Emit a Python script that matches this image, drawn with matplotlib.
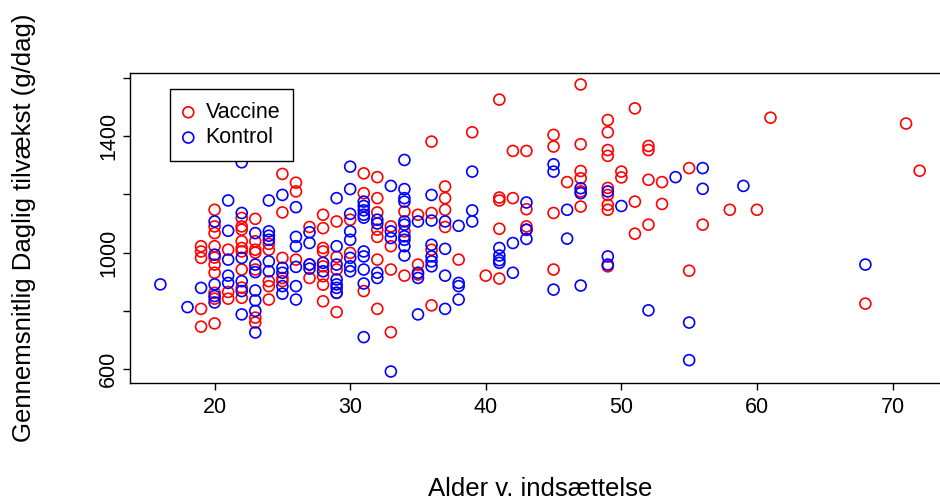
import numpy as np
import matplotlib
matplotlib.use('agg')
import matplotlib.pyplot as plt
from matplotlib.ticker import FixedLocator, FuncFormatter

plt.rcParams['font.family'] = ['Liberation Sans', 'DejaVu Sans']

# (alder, daglig tilvaekst), one line per age column
vaccine = [
    (19, 1022), (19, 1004), (19, 982), (19, 807), (19, 746),
    (20, 1147), (20, 1090), (20, 1067), (20, 1022), (20, 983), (20, 959), (20, 931), (20, 862), (20, 842), (20, 757),
    (21, 1010), (21, 865), (21, 842),
    (22, 1119), (22, 1090), (22, 1079), (22, 1039), (22, 1016), (22, 1004), (22, 942), (22, 880), (22, 845),
    (23, 1116), (23, 1039), (23, 1010), (23, 1000), (23, 942), (23, 777), (23, 760),
    (24, 1030), (24, 1010), (24, 902), (24, 885), (24, 839),
    (25, 1270), (25, 1138), (25, 982), (25, 913), (25, 902),
    (26, 1240), (26, 1210), (26, 976),
    (27, 1088), (27, 960), (27, 913),
    (28, 1130), (28, 1084), (28, 1016), (28, 1004), (28, 953), (28, 919), (28, 890), (28, 833),
    (29, 1107), (29, 985), (29, 942), (29, 862), (29, 796),
    (30, 1113), (30, 999),
    (31, 1272), (31, 1204), (31, 868),
    (32, 1259), (32, 1187), (32, 1138), (32, 1079), (32, 1054), (32, 976), (32, 807),
    (33, 1090), (33, 1022), (33, 942), (33, 727),
    (34, 1141), (34, 1073), (34, 921),
    (35, 1130), (35, 959), (35, 925),
    (36, 1381), (36, 1136), (36, 1010), (36, 819),
    (37, 1227), (37, 1187), (37, 1147), (37, 1088),
    (38, 976), (39, 1413), (40, 921),
    (41, 1525), (41, 1189), (41, 1179), (41, 1082), (41, 911),
    (42, 1349), (42, 1187),
    (43, 1349), (43, 1149), (43, 1090), (43, 1078),
    (45, 1404), (45, 1364), (45, 1136), (45, 942),
    (46, 1242),
    (47, 1577), (47, 1372), (47, 1280), (47, 1255), (47, 1210), (47, 1158),
    (49, 1455), (49, 1413), (49, 1352), (49, 1332), (49, 1222), (49, 1198), (49, 1164), (49, 1147), (49, 953),
    (50, 1278), (50, 1258),
    (51, 1495), (51, 1175), (51, 1065),
    (52, 1366), (52, 1352), (52, 1250), (52, 1096),
    (53, 1242), (53, 1167),
    (55, 1290), (55, 938),
    (56, 1096), (58, 1147), (60, 1147), (61, 1463), (68, 825), (71, 1443), (72, 1281),
]

kontrol = [
    (16, 891), (18, 813), (19, 879),
    (20, 1107), (20, 993), (20, 891), (20, 851), (20, 829),
    (21, 1179), (21, 1075), (21, 976), (21, 921), (21, 896),
    (22, 1310), (22, 1136), (22, 982), (22, 902), (22, 868), (22, 788),
    (23, 1067), (23, 959), (23, 933), (23, 870), (23, 836), (23, 800), (23, 726),
    (24, 1179), (24, 1073), (24, 1058), (24, 1044), (24, 970), (24, 936),
    (25, 1198), (25, 948), (25, 931), (25, 885), (25, 859),
    (26, 1156), (26, 1054), (26, 1022), (26, 951), (26, 885), (26, 839),
    (27, 1070), (27, 1033), (27, 959), (27, 945),
    (28, 965), (28, 936),
    (29, 1187), (29, 1022), (29, 959), (29, 908), (29, 891), (29, 879), (29, 862),
    (30, 1295), (30, 1218), (30, 1133), (30, 1073), (30, 1044), (30, 982), (30, 953), (30, 936),
    (31, 1175), (31, 1160), (31, 1145), (31, 1130), (31, 1120), (31, 1004), (31, 987), (31, 942), (31, 894), (31, 710),
    (32, 1113), (32, 1100), (32, 931), (32, 913),
    (33, 1229), (33, 1073), (33, 1050), (33, 592),
    (34, 1318), (34, 1218), (34, 1187), (34, 1175), (34, 1107), (34, 1096), (34, 1056), (34, 1044), (34, 1022), (34, 990),
    (35, 1107), (35, 931), (35, 913), (35, 788),
    (36, 1198), (36, 1110), (36, 1027), (36, 987), (36, 970), (36, 953),
    (37, 1107), (37, 1013), (37, 921), (37, 807),
    (38, 1092), (38, 896), (38, 885), (38, 839),
    (39, 1278), (39, 1145), (39, 1107),
    (41, 1016), (41, 990), (41, 974), (41, 965),
    (42, 1033), (42, 931),
    (43, 1172), (43, 1079), (43, 1047),
    (45, 1303), (45, 1278), (45, 873),
    (46, 1147), (46, 1048),
    (47, 1221), (47, 1204), (47, 887),
    (49, 1210), (49, 987), (49, 959),
    (50, 1160), (52, 802), (54, 1259),
    (55, 760), (55, 631),
    (56, 1290), (56, 1219), (59, 1229), (68, 959),
]

y_ticks = [600, 800, 1000, 1200, 1400, 1600]
y_labelled = [600, 1000, 1400]
x_ticks = [20, 30, 40, 50, 60, 70]

vac_age, vac_gain = np.array(vaccine).T
kon_age, kon_gain = np.array(kontrol).T

fig = plt.figure(figsize=(9.4, 5.01), dpi=100)
# plot region like R's default; right edge runs past the image like the reference
ax = fig.add_axes([130 / 940, 118 / 501, 820 / 940, 310 / 501])

ax.scatter(vac_age, vac_gain, s=62, facecolors='none', edgecolors='#ff0000', linewidths=1.2, label='Vaccine')
ax.scatter(kon_age, kon_gain, s=62, facecolors='none', edgecolors='#0000ff', linewidths=1.2, label='Kontrol')

# R style 4% padding of the data range
all_x = np.concatenate([vac_age, kon_age])
all_y = np.concatenate([vac_gain, kon_gain])
dx = (all_x.max() - all_x.min()) * 0.04
dy = (all_y.max() - all_y.min()) * 0.04
ax.set_xlim(all_x.min() - dx, all_x.max() + dx)
ax.set_ylim(all_y.min() - dy, all_y.max() + dy)

ax.xaxis.set_major_locator(FixedLocator(x_ticks))
ax.yaxis.set_major_locator(FixedLocator(y_ticks))
ax.yaxis.set_major_formatter(FuncFormatter(lambda v, p: str(int(v)) if int(v) in y_labelled else ''))
ax.tick_params(direction='out', length=5, width=1, labelsize=15.5, colors='black')
ax.tick_params(axis='x', pad=5)
ax.tick_params(axis='y', pad=3)
for lab in ax.get_yticklabels():
    lab.set_rotation(90)
    lab.set_va('center')

for sp in ax.spines.values():
    sp.set_linewidth(1.0)
    sp.set_color('black')

fig.text(540 / 940, 1 - 489 / 501, 'Alder v. indsættelse', ha='center', va='center', fontsize=18.5)
fig.text(24 / 940, 1 - 228 / 501, 'Gennemsnitlig Daglig tilvækst (g/dag)', ha='center', va='center',
         rotation=90, fontsize=18.5)

leg = ax.legend(loc='upper left', bbox_to_anchor=(40 / 820, 1 - 16 / 310), borderaxespad=0,
                fancybox=False, edgecolor='black', framealpha=1, fontsize=15.5,
                handlelength=0.5, handletextpad=0.55, borderpad=0.6, labelspacing=0.2,
                scatterpoints=1)
leg.get_frame().set_linewidth(1.0)

plt.savefig('out.png', dpi=100)
